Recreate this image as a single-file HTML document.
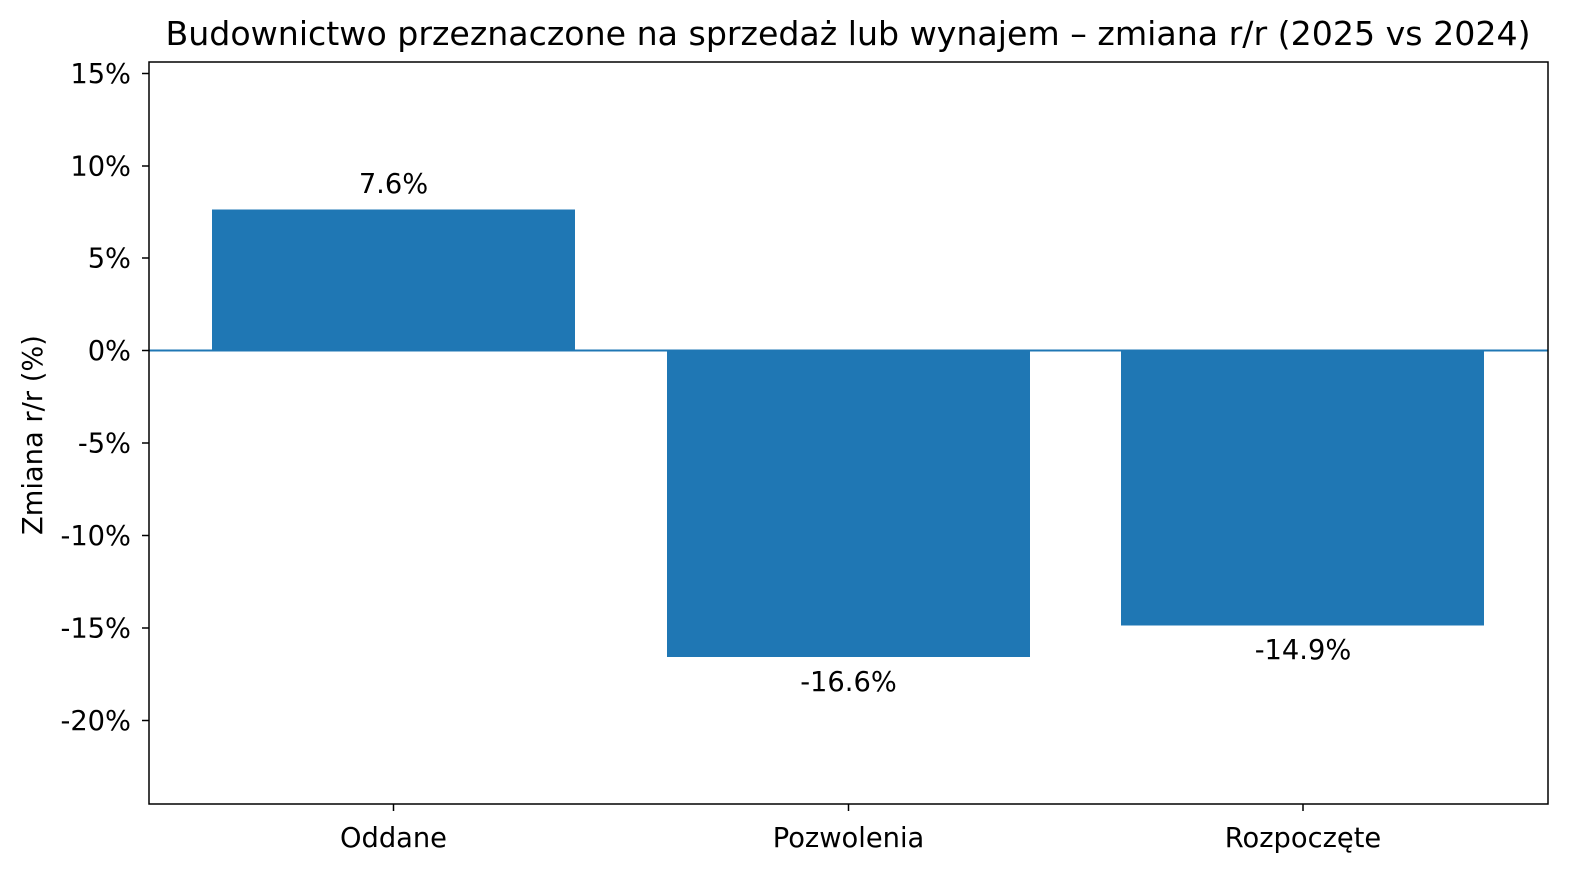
<!DOCTYPE html>
<html><head><meta charset="utf-8"><style>
html,body{margin:0;padding:0;background:#fff;overflow:hidden;width:1580px;height:879px;}
svg{display:block;}
svg text{font-family:"DejaVu Sans","Liberation Sans",sans-serif;fill:#000;}
</style></head><body>
<svg width="1580" height="879" viewBox="0 0 1580 879" xmlns="http://www.w3.org/2000/svg">
<rect width="1580" height="879" fill="#fff"/>
<text x="848" y="45" style="font-size:33.2px" text-anchor="middle">Budownictwo przeznaczone na sprzedaż lub wynajem – zmiana r/r (2025 vs 2024)</text>
<rect x="212" y="209.5" width="363" height="141" fill="#1f77b4"/>
<rect x="667" y="350.5" width="363" height="306.5" fill="#1f77b4"/>
<rect x="1121" y="350.5" width="363" height="275" fill="#1f77b4"/>
<line x1="149" y1="350.5" x2="1548" y2="350.5" stroke="#1f77b4" stroke-width="2"/>
<rect x="149" y="62" width="1399" height="742" fill="none" stroke="#000" stroke-width="1.5"/>
<g stroke="#000" stroke-width="1.5">
<line x1="142" y1="73.5" x2="149" y2="73.5"/>
<line x1="142" y1="166" x2="149" y2="166"/>
<line x1="142" y1="258" x2="149" y2="258"/>
<line x1="142" y1="350.5" x2="149" y2="350.5"/>
<line x1="142" y1="443" x2="149" y2="443"/>
<line x1="142" y1="535.5" x2="149" y2="535.5"/>
<line x1="142" y1="628" x2="149" y2="628"/>
<line x1="142" y1="720.5" x2="149" y2="720.5"/>
<line x1="393.5" y1="804" x2="393.5" y2="811"/>
<line x1="848.5" y1="804" x2="848.5" y2="811"/>
<line x1="1303" y1="804" x2="1303" y2="811"/>
</g>
<g style="font-size:27.3px" text-anchor="end">
<text x="131" y="83">15%</text>
<text x="131" y="175.5">10%</text>
<text x="131" y="267.5">5%</text>
<text x="131" y="360">0%</text>
<text x="131" y="452.5">-5%</text>
<text x="131" y="545">-10%</text>
<text x="131" y="637.5">-15%</text>
<text x="131" y="730">-20%</text>
</g>
<g style="font-size:27.3px" text-anchor="middle">
<text x="393.5" y="847">Oddane</text>
<text x="848.5" y="847">Pozwolenia</text>
<text x="1303" y="847">Rozpoczęte</text>
<text x="393.5" y="193">7.6%</text>
<text x="848.5" y="691">-16.6%</text>
<text x="1303" y="659">-14.9%</text>
</g>
<text x="42" y="435" style="font-size:27.3px" text-anchor="middle" transform="rotate(-90 42 435)">Zmiana r/r (%)</text>
</svg>
</body></html>
